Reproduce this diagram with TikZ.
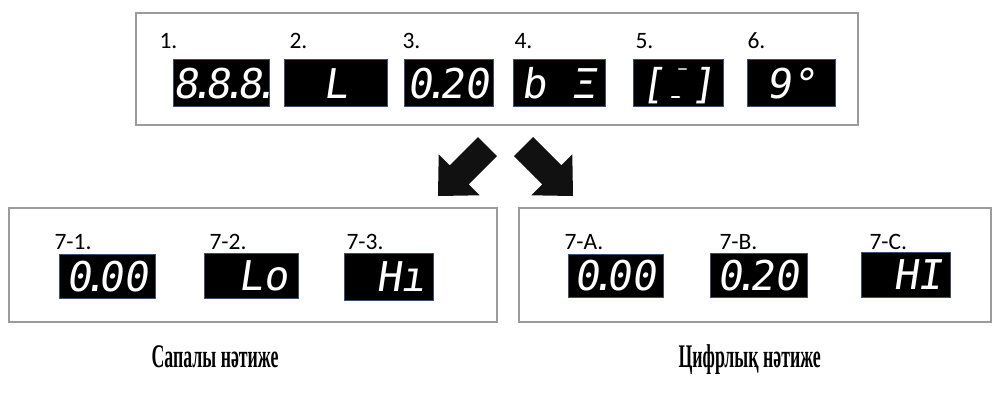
\documentclass[tikz,border=0pt]{standalone}
\usepackage{fontspec}
\setmainfont{Carlito}
\newfontfamily\segfont{DejaVu Sans Mono}[FakeSlant=0.15]
\newfontfamily\capfont{Liberation Serif}[FakeStretch=0.54]
\newcommand{\segdp}{\kern-0.21em.\kern-0.21em}
\definecolor{framegray}{RGB}{155,155,155}
\definecolor{dispedge}{RGB}{60,80,110}
\definecolor{arrowblack}{RGB}{17,17,17}

\begin{document}
\begin{tikzpicture}[x=1pt, y=-1pt,
  frame/.style={draw=framegray, line width=2pt},
  display/.style={fill=black, draw=dispedge, line width=0.8pt, inner sep=0pt, text=white,
    font=\segfont\fontsize{41}{41}\selectfont, text height=30pt, text depth=0pt, minimum height=47pt},
  num/.style={anchor=base west, font=\fontsize{23.5}{28}\selectfont},
  caption/.style={anchor=base west, font=\capfont\bfseries\fontsize{33}{38}\selectfont},
  bigarrow/.style={fill=arrowblack}]
\fill[white] (0,0) rectangle (993,392);
\useasboundingbox (0,0) rectangle (993,392);

\draw[frame] (136,13) rectangle (858,125);
\draw[frame] (9,208) rectangle (497,322);
\draw[frame] (519,208) rectangle (991,322);

\node (d1) [display, minimum width=91pt] at (221.5,83) {8\segdp 8\segdp 8\segdp};
\node (d2) [display, minimum width=103pt] at (335.5,83) {L};
\node (d3) [display, minimum width=89pt] at (448.5,83) {0\segdp 20};
\node (d4) [display, minimum width=92pt] at (559,83) {b~Ξ};
\node (d5) [display, minimum width=90pt] at (678,83) {[~]};
\node (d6) [display, minimum width=88pt] at (791,83) {9°~};
\draw[gray!55, line width=2.5pt, line cap=round] (679,69) -- (686,69);
\draw[white, line width=2.5pt, line cap=round] (672,97) -- (679,97);

\node (l1) [num] at (156,48) {1.};
\node (l2) [num] at (286,48) {2.};
\node (l3) [num] at (399,48) {3.};
\node (l4) [num] at (511,48) {4.};
\node (l5) [num] at (632,48) {5.};
\node (l6) [num] at (744,48) {6.};

\fill[bigarrow] (438,196) -- (479.7,195.3) -- (468.7,184.3) -- (497,156) -- (478,137) -- (449.7,165.3) -- (438.7,154.3) -- cycle;
\fill[bigarrow] (573,196) -- (531.3,195.3) -- (542.3,184.3) -- (514,156) -- (533,137) -- (561.3,165.3) -- (572.3,154.3) -- cycle;

\node (d71) [display, minimum width=96pt, minimum height=44pt] at (107,276) {0\segdp 00};
\node (d72) [display, minimum width=94pt, minimum height=45pt] at (251,275.5) {~Lo};
\node (d73) [display, minimum width=89pt, minimum height=47pt] at (388.5,276.5) {~Hı};
\node (d7a) [display, minimum width=95pt, minimum height=43pt] at (615.5,275.5) {0\segdp 00};
\node (d7b) [display, minimum width=97pt, minimum height=44pt] at (758.5,275) {0\segdp 20};
\node (d7c) [display, minimum width=89pt, minimum height=45pt] at (905.5,274.5) {~HI};

\node (l71) [num] at (51,249) {7-1.};
\node (l72) [num] at (206,249) {7-2.};
\node (l73) [num] at (343,249) {7-3.};
\node (l7a) [num] at (561,249) {7-A.};
\node (l7b) [num] at (716,249) {7-B.};
\node (l7c) [num] at (866,249) {7-C.};

\node (cap1) [caption] at (148,367) {Сапалы нәтиже};
\node (cap2) [caption] at (675,367) {Цифрлық нәтиже};
\end{tikzpicture}
\end{document}
